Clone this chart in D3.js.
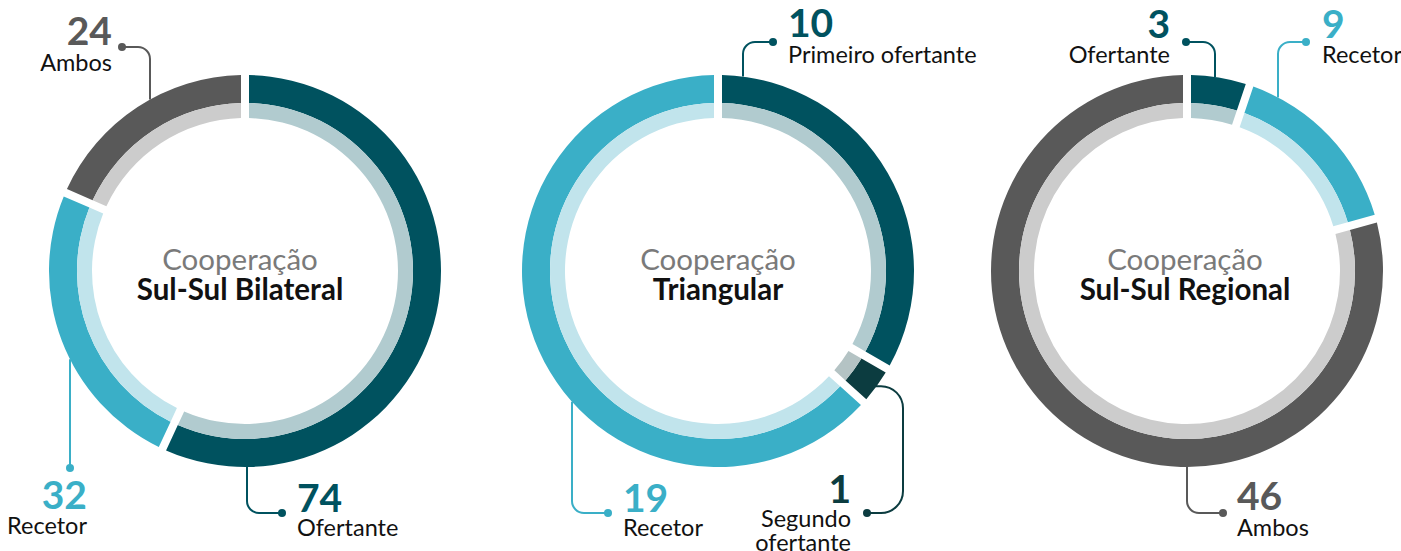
<!DOCTYPE html>
<html>
<head>
<meta charset="utf-8">
<script src="https://cdn.jsdelivr.net/npm/d3@7"></script>
<style>
  body { margin: 0; background: #fff; }
  text { font-family: Lato, 'Open Sans', sans-serif; }
</style>
</head>
<body>
<svg width="1401" height="551"></svg>
<script>
// data
const chartTitles = ['Sul-Sul Bilateral', 'Triangular', 'Sul-Sul Regional']
const bilateralLabels = ['Ofertante', 'Recetor', 'Ambos']
const bilateralValues = [74, 32, 24]
const triangularLabels = ['Primeiro ofertante', 'Segundo ofertante', 'Recetor']
const triangularValues = [10, 1, 19]
const regionalLabels = ['Ofertante', 'Recetor', 'Ambos']
const regionalValues = [3, 9, 46]

const svg = d3.select('svg')
const cy = 271
const outerR = 196
const midR = 168
const innerR = 153
const gap = 8

const dark = { Ofertante: '#00525f', 'Primeiro ofertante': '#00525f', 'Segundo ofertante': '#0c3c40', Recetor: '#3aafc7', Ambos: '#595959' }
const light = { Ofertante: '#b1cbcf', 'Primeiro ofertante': '#b1cbcf', 'Segundo ofertante': '#b4c3c4', Recetor: '#c1e4ec', Ambos: '#cccccc' }

// label layout, relative to each chart centre
// side: 'top' / 'bottom' leaders go vertically from the ring to the dot row
const layouts = [
  {
    cx: 245, titleDx: -5,
    labels: [
      { side: 'bottom', lx: 2, dot: [37, 242], tx: 52, anchor: 'start', ny: 241, ly: [265] },
      { side: 'bottom', lx: -175, dot: [-175, 197], tx: -158, anchor: 'end', ny: 238, ly: [263] },
      { side: 'top', lx: -95, dot: [-123, -224], tx: -133, anchor: 'end', ny: -226, ly: [-200] }
    ]
  },
  {
    cx: 718, titleDx: 0,
    labels: [
      { side: 'top', lx: 25, dot: [55, -229], tx: 70, anchor: 'start', ny: -234, ly: [-208] },
      { side: 'hook', hx: 185, dot: [149, 242], tx: 133, anchor: 'end', ny: 232, ly: [256, 280], split: true },
      { side: 'bottom', lx: -146, dot: [-110, 242], tx: -95, anchor: 'start', ny: 241, ly: [265] }
    ]
  },
  {
    cx: 1187, titleDx: -2,
    labels: [
      { side: 'top', lx: 28, dot: [-1, -229], tx: -17, anchor: 'end', ny: -233, ly: [-208] },
      { side: 'top', lx: 91, dot: [119, -229], tx: 135, anchor: 'start', ny: -233, ly: [-208] },
      { side: 'bottom', lx: 0, dot: [36, 242], tx: 50, anchor: 'start', ny: 239, ly: [265] }
    ]
  }
]

const datasets = [
  { labels: bilateralLabels, values: bilateralValues },
  { labels: triangularLabels, values: triangularValues },
  { labels: regionalLabels, values: regionalValues }
]

const pie = d3.pie().sort(null).value(function (d) { return d.value })
const outerArc = d3.arc().innerRadius(midR).outerRadius(outerR).padRadius(outerR).padAngle(gap / outerR)
const innerArc = d3.arc().innerRadius(innerR).outerRadius(midR).padRadius(outerR).padAngle(gap / outerR)

// polyline with rounded corners
function rounded (pts, r) {
  const p = d3.path()
  p.moveTo(pts[0][0], pts[0][1])
  for (let i = 1; i < pts.length - 1; i++) {
    p.arcTo(pts[i][0], pts[i][1], pts[i + 1][0], pts[i + 1][1], r)
  }
  p.lineTo(pts[pts.length - 1][0], pts[pts.length - 1][1])
  return p.toString()
}

datasets.forEach(function (ds, ci) {
  const lay = layouts[ci]
  const g = svg.append('g').attr('transform', 'translate(' + lay.cx + ',' + cy + ')')
  const data = ds.labels.map(function (l, i) { return { label: l, value: ds.values[i] } })
  const arcs = pie(data)

  g.selectAll('path.outer')
    .data(arcs)
    .enter()
    .append('path')
    .attr('class', 'outer')
    .attr('d', outerArc)
    .attr('fill', function (d) { return dark[d.data.label] })

  g.selectAll('path.inner')
    .data(arcs)
    .enter()
    .append('path')
    .attr('class', 'inner')
    .attr('d', innerArc)
    .attr('fill', function (d) { return light[d.data.label] })

  // leaders and labels
  arcs.forEach(function (a, i) {
    const L = lay.labels[i]
    const col = dark[a.data.label]
    let pts
    if (L.side === 'top' || L.side === 'bottom') {
      const sgn = L.side === 'top' ? -1 : 1
      const ry = sgn * Math.sqrt(outerR * outerR - L.lx * L.lx)
      pts = [[L.lx, ry], [L.lx, L.dot[1]], L.dot]
      if (L.lx === L.dot[0]) pts = [[L.lx, ry], L.dot]
    } else {
      const mid = (a.startAngle + a.endAngle) / 2
      const sx = outerR * Math.sin(mid) - 4
      const sy = -outerR * Math.cos(mid)
      pts = [[sx, sy], [L.hx, sy], [L.hx, L.dot[1]], L.dot]
    }
    g.append('path')
      .attr('d', rounded(pts, pts.length > 3 ? 22 : 12))
      .attr('fill', 'none')
      .attr('stroke', col)
      .attr('stroke-width', 2)
    g.append('circle')
      .attr('cx', L.dot[0])
      .attr('cy', L.dot[1])
      .attr('r', 4)
      .attr('fill', col)

    g.append('text')
      .attr('x', L.tx)
      .attr('y', L.ny)
      .attr('text-anchor', L.anchor)
      .attr('fill', col)
      .style('font-size', '39px')
      .style('font-weight', 'bold')
      .text(a.data.value)

    const lines = L.split ? a.data.label.split(' ') : [a.data.label]
    lines.forEach(function (t, k) {
      g.append('text')
        .attr('x', L.tx)
        .attr('y', L.ly[k])
        .attr('text-anchor', L.anchor)
        .attr('fill', '#111')
        .style('font-size', '23.5px')
        .text(t)
    })
  })

  // centre title
  g.append('text')
    .attr('x', lay.titleDx)
    .attr('y', -1)
    .attr('text-anchor', 'middle')
    .attr('fill', '#7a7a7a')
    .style('font-size', '29.5px')
    .text('Cooperação')
  g.append('text')
    .attr('x', lay.titleDx)
    .attr('y', 29)
    .attr('text-anchor', 'middle')
    .attr('fill', '#111')
    .style('font-size', '29.5px')
    .style('font-weight', 'bold')
    .text(chartTitles[ci])
})
</script>
</body>
</html>
